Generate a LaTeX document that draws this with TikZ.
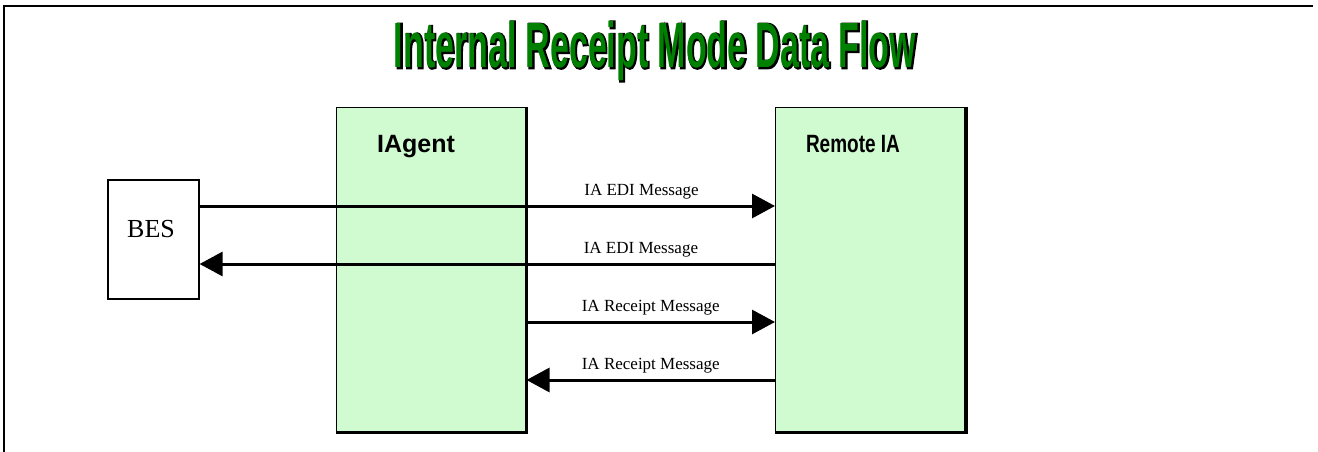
\documentclass[tikz,border=0pt]{standalone}
\usepackage{fontspec}
\setmainfont{Liberation Serif}
\setsansfont{Liberation Sans}
\newfontfamily\titleback[FakeBold=4]{Liberation Sans Bold}
\usetikzlibrary{arrows.meta}
\definecolor{agentgreen}{RGB}{208,250,208}
\definecolor{titlegreen}{RGB}{0,128,0}
\newcommand{\flowtitle}{\scalebox{0.53}[1]{Internal Receipt Mode Data Flow}}

\begin{document}
\begin{tikzpicture}[x=1pt,y=-1pt,>={Triangle[length=23pt,width=24pt]},line width=3pt]
        \tikzstyle{agent}=[draw, line width=1pt, fill=agentgreen, minimum width=190pt, minimum height=325pt]
        \tikzstyle{heading}=[font=\sffamily\bfseries\fontsize{25}{25}\selectfont, inner sep=0pt, anchor=base]
        \tikzstyle{msg}=[font=\fontsize{17}{17}\selectfont, inner sep=1pt, above=4pt]
        \tikzstyle{title}=[font=\sffamily\bfseries\fontsize{64}{64}\selectfont, anchor=base, inner sep=0pt]
        \useasboundingbox (0,0) rectangle (1318,452);

        % frame
        \coordinate (fnw) at (4,6);
        \coordinate (fne) at (1313,6);
        \coordinate (fsw) at (4,452);
        \draw[line width=1.5pt] (fne) -- (fnw) -- (fsw);

        % title, black outline behind the green letters
        \node[title, font=\titleback\fontsize{64}{64}\selectfont, black] (titleshade) at (656,68) {\flowtitle};
        \node[title, text=titlegreen] (title) at (655,67) {\flowtitle};

        % boxes
        \node[agent]             (iagent)  at (431,269.5)   {};
        \node[agent]             (remote)  at (870.5,269.5) {};
        \node[draw, fill=white, line width=1.2pt, minimum width=91pt, minimum height=119pt] (bes) at (153.5,239.5) {};
        \draw[line width=3.5pt] (iagent.north east) -- (iagent.south east) -- (iagent.south west);
        \draw[line width=3.5pt] (remote.north east) -- (remote.south east) -- (remote.south west);

        \node[heading]                         (iagenttxt) at (416,152) {IAgent};
        \node[heading, xscale=0.76]            (remotetxt) at (853,152) {Remote IA};
        \node[font=\fontsize{26}{26}\selectfont] (bestxt) at (151,229) {BES};

        % message rows
        \coordinate (row1) at (0,206);
        \coordinate (row2) at (0,264);
        \coordinate (row3) at (0,322);
        \coordinate (row4) at (0,380);

        \draw[->] (bes.east |- row1)    -- node[msg, pos=0.768] (m1) {IA EDI Message}     (remote.west |- row1);
        \draw[->] (remote.west |- row2) -- node[msg, pos=0.233] (m2) {IA EDI Message}     (bes.east |- row2);
        \draw[->] (iagent.east |- row3) -- node[msg]            (m3) {IA Receipt Message} (remote.west |- row3);
        \draw[->] (remote.west |- row4) -- node[msg]            (m4) {IA Receipt Message} (iagent.east |- row4);
      \end{tikzpicture}
\end{document}
